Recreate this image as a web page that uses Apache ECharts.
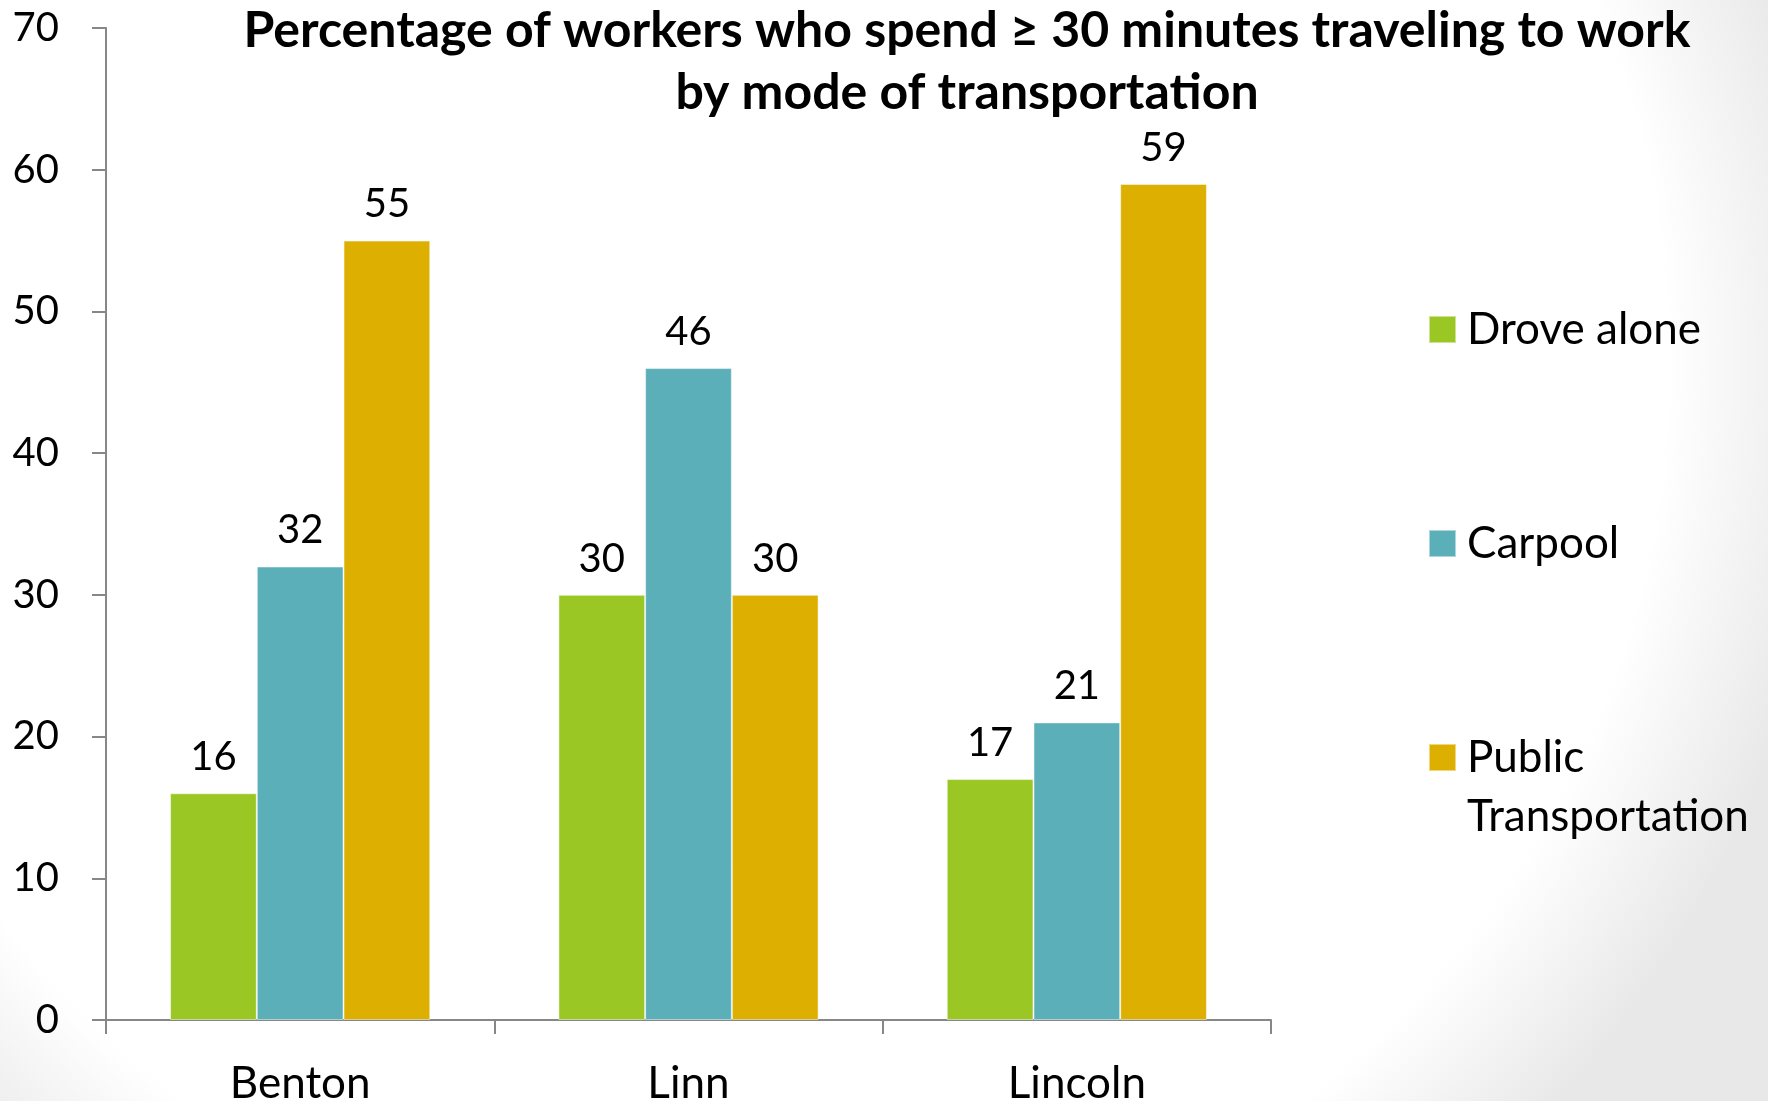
<!DOCTYPE html>
<html>
<head>
<meta charset="utf-8">
<script src="https://cdn.jsdelivr.net/npm/echarts@6/dist/echarts.min.js"></script>
<style>html,body{margin:0;padding:0;background:#fff}#c{width:1768px;height:1101px}</style>
</head>
<body>
<div id="c"></div>
<script>
const categories = ['Benton', 'Linn', 'Lincoln'];
const droveAlone = [16, 30, 17];
const carpool = [32, 46, 21];
const publicTransportation = [55, 30, 59];
const seriesNames = ['Drove alone', 'Carpool', 'Public Transportation'];
const yTicks = { min: 0, max: 70, interval: 10 };

const FONT = 'Lato';
const colors = ['#9BC724', '#5BAFB8', '#DDAF00'];

const chart = echarts.init(document.getElementById('c'), null, { renderer: 'canvas' });

function legendFor(i, top, fmt) {
  return {
    data: [seriesNames[i]],
    orient: 'vertical',
    left: 1428,
    top: top,
    padding: 0,
    icon: 'rect',
    itemWidth: 27,
    itemHeight: 27,
    itemGap: 0,
    selectedMode: false,
    formatter: fmt,
    textStyle: { fontFamily: FONT, fontSize: 44, color: '#000', lineHeight: 59, padding: [0, 0, 0, 6] }
  };
}

const labelStyle = {
  show: true,
  position: 'top',
  distance: 16,
  fontFamily: FONT,
  fontSize: 40,
  color: '#000'
};

const data = [droveAlone, carpool, publicTransportation];

chart.setOption({
  backgroundColor: {
    type: 'radial', x: 0.42, y: 0.33, r: 1.0,
    colorStops: [
      { offset: 0, color: '#ffffff' },
      { offset: 0.84, color: '#ffffff' },
      { offset: 1, color: '#e8e8e8' }
    ]
  },
  animation: false,
  title: {
    text: 'Percentage of workers who spend \u2265 30 minutes traveling to work\nby mode of transportation',
    left: 967,
    top: 0,
    textAlign: 'center',
    padding: 0,
    textStyle: { fontFamily: FONT, fontWeight: 'bold', fontSize: 50, lineHeight: 62, color: '#000' }
  },
  legend: [
    legendFor(0, 300, '{name}'),
    legendFor(1, 514, '{name}'),
    legendFor(2, 669, function () { return '\nPublic\nTransportation'; })
  ],
  grid: { left: 106, right: 497, top: 28, bottom: 81, containLabel: false, outerBoundsMode: 'none' },
  xAxis: {
    type: 'category',
    data: categories,
    axisLine: { show: true, lineStyle: { color: '#878787', width: 2 } },
    axisTick: { show: true, length: 14, lineStyle: { color: '#878787', width: 2 } },
    axisLabel: { fontFamily: FONT, fontSize: 44, color: '#000', margin: 42 },
    splitLine: { show: false }
  },
  yAxis: {
    type: 'value',
    min: yTicks.min, max: yTicks.max, interval: yTicks.interval,
    axisLine: { show: true, lineStyle: { color: '#878787', width: 2 } },
    axisTick: { show: true, length: 14, lineStyle: { color: '#878787', width: 2 } },
    axisLabel: { fontFamily: FONT, fontSize: 40, color: '#000', margin: 47 },
    splitLine: { show: false }
  },
  series: data.map((d, i) => ({
    name: seriesNames[i],
    type: 'bar',
    data: d,
    barGap: '0%',
    barCategoryGap: '33%',
    itemStyle: { color: colors[i], borderColor: 'rgba(255,255,255,0.5)', borderWidth: 1 },
    label: labelStyle
  }))
});
</script>
</body>
</html>
